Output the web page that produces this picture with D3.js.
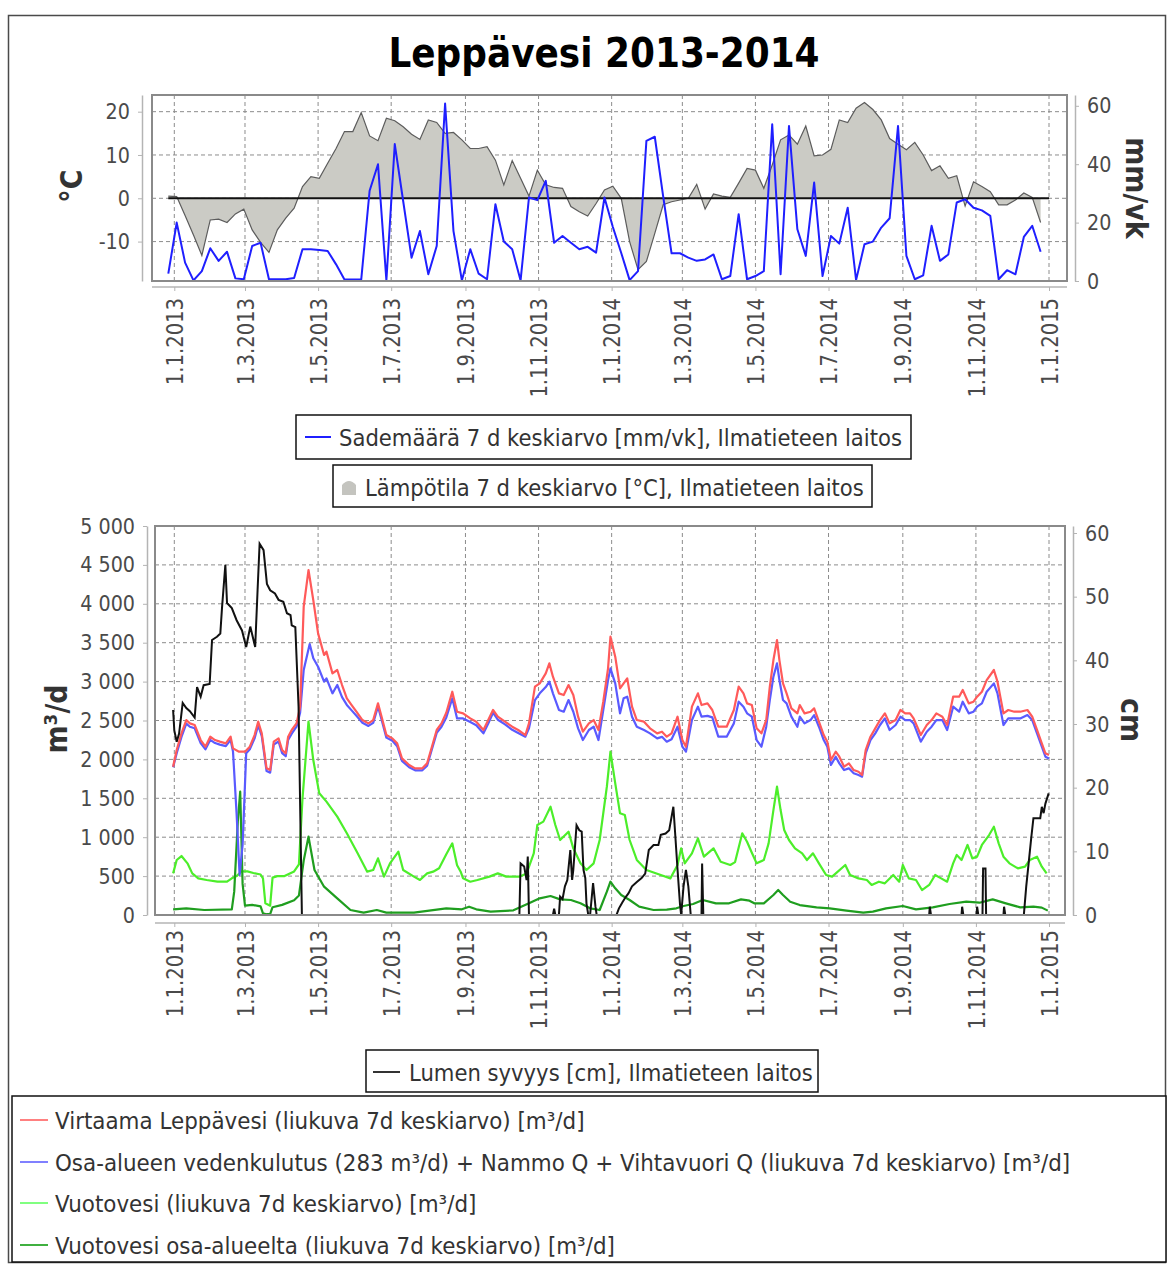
<!DOCTYPE html>
<html>
<head>
<meta charset="utf-8">
<script src="https://cdn.jsdelivr.net/npm/d3@7"></script>
<style>
  html, body { margin: 0; padding: 0; background: #fff; }
  svg text { font-family: "DejaVu Sans", sans-serif; }
</style>
</head>
<body>
<svg id="chart" width="1168" height="1264"></svg>
<script>
// ---------- Weather panel (weekly 7 d averages) ----------
const weekStart = "2012-12-27";
// Sademäärä 7 d keskiarvo [mm/vk]
const rain = [2.5,20,6.3,0.2,3.4,11.2,6.9,10,0.9,0.6,
  12,13.1,0.6,0.6,0.6,1,10.9,10.9,10.6,10.3,
  5.7,0.5,0.5,0.5,30.9,40,0.2,46.9,27.4,8,
  17.1,2.3,12,60.8,17.1,0.2,10.9,2.5,0.6,26.3,
  13.5,10.9,0.2,28.6,27.7,34.3,13.1,15.4,13.1,10.9,
  11.7,9.7,28.6,18.5,9.6,0.3,3.4,48,49.4,29,
  9.5,9.5,8,6.9,7.4,9.1,0.6,1.7,22.9,0.6,
  1.7,3.4,53.7,2.3,53.1,17.7,8.6,33.7,1.7,15.4,
  12.8,25.1,0.3,12.6,13.5,18.3,21.5,53.1,8.6,0.6,
  1.9,18.9,6.9,9.1,26.9,28,25.1,24.2,22.3,0.6,
  3.7,2.3,15.1,18.9,10];
// Lämpötila 7 d keskiarvo [°C]
const temp = [0.5,0.4,-4,-8.5,-13.2,-5,-4.8,-5.6,-3.6,-2.5,
  -7.3,-10.2,-12.5,-7.3,-4.6,-2.3,2.7,5,4.6,8.1,
  11.5,15.4,15.4,19.8,14.4,13.3,18.5,17.9,16.5,14.8,
  13.6,18.1,17.5,15,15.2,13.5,11.5,11.5,11.9,8.8,
  3.1,8.7,4.6,0.5,6.5,3.1,2.5,2.3,-1.9,-3.1,
  -4.1,-1.2,1.9,2.8,0,-10,-16.5,-14.6,-8.1,-1.5,
  -0.8,-0.4,0,3.2,-2.5,1,0.5,0.2,3.5,6.9,
  6.5,2.3,7.7,13.5,14.6,12.5,16.7,9.8,10,11.3,
  18.1,17.5,20.8,22.1,20.5,18.1,13.8,12.5,11.2,12.9,
  10,6.4,7.5,4.6,5.2,-1.8,3.8,2.7,1.5,-1.5,
  -1.5,-0.4,1.2,0.2,-5.6];

// ---------- Flow panel (daily moving averages; day = days since 1.1.2013) ----------
const flowDays = [-1,2,6,10,13,17,22,26,30,34, 38,43,47,49,54,59,63,67,70,73,
  77,80,83,87,90,93,95,98,102,105, 108,112,116,120,125,127,132,136,140,144,
  148,152,157,162,166,170,173,177,182,186, 190,196,201,207,211,215,219,223,227,232,
  236,241,247,252,258,262,266,270,276,282, 287,293,296,301,305,310,313,316,321,325,
  329,333,337,341,346,350,354,358,362,364, 368,372,375,378,382,386,392,397,403,407,
  411,415,420,424,427,432,437,440,445,449, 454,461,467,471,475,478,482,486,490,494,
  497,500,503,505,508,511,515,520,522,526, 531,534,538,542,545,548,552,555,559,563,
  567,571,574,577,581,585,589,593,597,602, 606,610,614,617,623,628,632,636,641,645,
  650,655,658,663,667,670,674,678,684,687, 692,696,701,706,712,716,720,724,727,730];
// Virtaama Leppävesi [m³/d]
const flowVals = [1906,2120,2335,2506,2463,2442,2249,2163,2292,2249, 2228,2206,2292,2142,2099,2099,2163,2313,2485,2335,
  1885,1863,2228,2270,2120,2078,2292,2378,2463,2678, 3963,4434,4048,3620,3342,3384,3106,3149,2956,2785,
  2699,2613,2506,2463,2506,2720,2549,2313,2270,2206, 2013,1928,1885,1885,1949,2163,2378,2463,2600,2870,
  2613,2592,2527,2485,2378,2506,2635,2549,2485,2420, 2378,2313,2463,2935,2977,3106,3234,3063,2849,2827,
  2956,2827,2549,2356,2463,2506,2378,2742,3170,3577, 3320,2913,2977,3042,2678,2506,2485,2399,2335,2356,
  2292,2335,2549,2249,2163,2678,2849,2699,2720,2635, 2420,2420,2635,2935,2849,2720,2699,2399,2335,2506,
  2935,3277,3534,3277,2977,2849,2656,2592,2699,2592, 2613,2656,2485,2313,2228,1992,2099,2035,1906,1949,
  1863,1842,1799,2120,2292,2399,2506,2592,2463,2506, 2635,2592,2592,2527,2313,2442,2506,2592,2549,2442,
  2806,2806,2892,2720,2742,2806,2870,3020,3149,2999, 2592,2635,2613,2613,2635,2549,2378,2206,2078,2056];

const useDays = [-1,2,6,10,13,17,22,26,30,34, 38,43,47,49,52,54.5,57,60,63,67,
  70,73,77,80,83,87,90,93,95,98, 102,105,108,113,116,120,125,127,132,136,
  140,144,148,152,157,162,166,170,173,177, 182,186,190,196,201,207,211,215,219,223,
  227,232,236,241,247,252,258,262,266,270, 276,282,287,293,296,301,305,310,313,316,
  321,325,329,333,337,341,346,350,354,358, 362,364,368,372,375,378,382,386,392,397,
  403,407,411,415,420,424,427,432,437,440, 445,449,454,461,467,471,475,478,482,486,
  490,494,497,500,503,505,508,511,515,520, 522,526,531,534,538,542,545,548,552,555,
  559,563,567,571,574,577,581,585,589,593, 597,602,606,610,614,617,623,628,632,636,
  641,645,650,655,658,663,667,670,674,678, 684,687,692,696,701,706,712,716,720,724,
  727,730];
// Osa-alueen vedenkulutus + Nammo Q + Vihtavuori Q [m³/d]
const useVals = [1900,2080,2290,2460,2420,2400,2210,2130,2250,2210, 2190,2170,2250,2100,1300,514,900,2078,2130,2270,
  2440,2300,1850,1830,2190,2230,2080,2040,2250,2330, 2420,2600,3150,3483,3300,3191,2999,3042,2849,2956,
  2800,2700,2630,2560,2470,2430,2470,2680,2510,2280, 2240,2170,1980,1900,1860,1860,1920,2130,2340,2420,
  2540,2785,2527,2527,2480,2440,2335,2460,2600,2510, 2450,2380,2340,2292,2400,2763,2849,2930,2999,2849,
  2635,2613,2763,2613,2399,2249,2378,2420,2249,2635, 3020,3170,2977,2592,2785,2806,2549,2420,2378,2335,
  2270,2290,2228,2260,2420,2163,2099,2506,2678,2549, 2560,2540,2292,2292,2463,2742,2678,2592,2549,2249,
  2163,2420,2763,3063,3234,3020,2763,2720,2549,2420, 2549,2463,2506,2570,2420,2249,2163,1928,2035,1949,
  1863,1885,1821,1799,1778,2078,2249,2335,2442,2527, 2378,2442,2549,2506,2506,2463,2228,2356,2420,2506,
  2506,2378,2678,2613,2742,2592,2613,2678,2720,2870, 2977,2849,2442,2527,2527,2527,2570,2506,2335,2163,
  2035,2013];

const leakDays = [-1,2,6,11,15,20,27,36,44,48, 52,56,61,66,72,74,76,80,82,86,
  92,100,104,107,112,116,121,127,136,144, 153,161,166,170,175,180,187,191,200,205,
  211,216,221,227,232,236,239,241,247,253, 263,270,277,288,294,300,303,308,314,318,
  322,329,333,339,344,350,355,361,364,368, 372,376,380,386,394,406,414,420,423,426,
  432,437,442,450,456,464,468,474,478,482, 486,492,496,500,503,506,509,513,518,524,
  528,533,538,544,549,560,564,571,578,582, 588,593,600,605,608,613,619,624,630,635,
  640,645,650,653,657,662,666,670,674,680, 684,688,692,697,704,710,714,720,724,728];
// Vuotovesi [m³/d]
const leakVals = [535,707,758,664,535,471,450,428,428,471, 500,560,560,540,520,470,150,120,480,500,
  500,560,650,1500,2485,1992,1564,1457,1264,1050, 793,557,578,728,493,664,814,578,493,450,
  535,557,600,780,921,640,557,471,428,450, 493,535,493,493,535,793,1157,1200,1392,1157,
  964,1071,857,664,578,664,964,1649,2099,1692, 1307,1285,964,707,578,514,471,643,857,664,
  793,985,750,857,685,643,680,1050,942,800, 664,707,921,1349,1649,1349,1092,964,857,793,
  707,793,664,514,493,643,514,471,450,386, 428,407,514,428,643,471,450,321,386,514,
  471,428,664,771,707,900,728,750,900,1028, 1135,921,750,664,600,621,707,750,621,535];

const subDays = [-1,10,25,48,50,53,55,57,59,65, 72,74,77,80,82,90,100,104,108,112,
  117,125,136,147,158,169,177,200,227,240, 246,252,264,283,296,305,314,322,331,339,
  347,355,361,364,368,373,380,388,400,411, 419,425,433,441,452,463,473,480,484,492,
  500,504,508,514,522,536,547,561,575,583, 594,608,619,633,647,661,672,683,694,706,
  717,724,729];
// Vuotovesi osa-alueelta [m³/d]
const subVals = [73,86,64,73,300,1200,1585,400,120,130, 110,20,10,10,100,130,190,250,700,1007,
  578,364,214,64,30,64,30,30,86,73, 107,73,43,60,150,214,244,201,193,150,
  86,64,300,428,343,257,193,107,64,70, 86,116,141,193,150,150,201,184,150,150,
  257,321,257,171,128,98,86,56,30,43, 86,116,73,98,141,171,158,201,150,98,
  107,95,56];

const snowDays = [-1,0,2,4,7,10,13,17,19,22, 24.5,29.5,31.5,35.6,38.4,39.8,42.6,44,48,52,
  56.5,60,63.4,67.5,69.5,71.2,74.5,77.3,80,84, 87,91,94,97,98,101,103.7,106.5,288,289,
  292,294,295,296,316,317,318,321,322,324, 326,328,330.5,332,333,335.7,338,340,341.5,343,
  344,345.5,347,349.5,351.5,352.5,369,371,374,377, 379,382,386,390,393,396,400,404,406,410,
  413,416.5,418,420,422,423,425,427,429,431, 440,440.5,441.5,630,630.5,631.5,657,657.5,658.5,669.5,
  670,671,674.5,675,677,677.5,692,692.5,693.5,709, 711,713,715,717,722.7,724,725.5,727,729.7];
// Lumen syvyys [cm]
const snowVals = [32.2,29,27.2,28.5,33.3,32.5,32,31,35.8,34.3, 36.1,36.3,43.2,43.7,44.2,48.2,55,49,48.2,46.3,
  44.7,42.1,45.3,42.1,51,58.3,57.3,52,51,50.5, 49.5,49.2,47.4,47.1,45.5,45.2,32.7,0,0,8.1,
  7.6,5.5,9.2,0,0,1,0,0,2.9,2.5, 4.5,5.5,10.2,5.5,7.1,14.1,13.3,13.1,7.1,5.8,
  1.8,0,0,5,1.3,0,0,1,2,2.9, 3.4,4.5,5.2,5.8,6.5,10.2,11,11,12.6,12.8,
  13.3,17,12.8,7.1,1.8,0,4.5,7.1,4.5,0, 0,8.1,0,0,1.3,0,0,1.3,0,0,
  1.3,0,0,7.3,7.3,0,0,1.3,0,0, 4.5,8.1,11.8,15.2,15.2,17,16,17.5,19.1];

// ---------- Axis ticks ----------
const monthTicks = ["2013-01-01","2013-03-01","2013-05-01","2013-07-01","2013-09-01","2013-11-01",
  "2014-01-01","2014-03-01","2014-05-01","2014-07-01","2014-09-01","2014-11-01","2015-01-01"];
const tempTicks = [-10, 0, 10, 20];
const rainTicks = [0, 20, 40, 60];
const flowTicks = [0,500,1000,1500,2000,2500,3000,3500,4000,4500,5000];
const snowTicks = [0,10,20,30,40,50,60];

// ---------- Helpers ----------
const DAY0 = Date.UTC(2013, 0, 1);
const dayDate = d => new Date(DAY0 + d * 864e5);
const pairs = (days, vals) => days.map((d, i) => ({ date: dayDate(d), v: vals[i] }));
const weekDates = rain.map((_, i) => d3.utcDay.offset(new Date(weekStart + "T00:00:00Z"), 7 * i));
const tickDates = monthTicks.map(s => new Date(s + "T00:00:00Z"));
const fmtDate = d3.utcFormat("%-d.%-m.%Y");
const fmtPlain = v => String(v);
const fmtThousands = v => String(v).replace(/\B(?=(\d{3})+(?!\d))/g, " ");

const svg = d3.select("#chart");
svg.append("rect").attr("width", 1168).attr("height", 1264).attr("fill", "#fff");

// outer frame
svg.append("rect").attr("x", 8.5).attr("y", 15.5).attr("width", 1157).attr("height", 1247)
  .attr("fill", "none").attr("stroke", "#4a4a4a").attr("stroke-width", 1.5);

svg.append("text").attr("x", 604).attr("y", 67).attr("text-anchor", "middle")
  .attr("font-size", 41).attr("font-weight", "bold").attr("fill", "#000")
  .attr("data-k", 0.875)
  .text("Leppävesi 2013-2014");

const x = d3.scaleUtc().domain([dayDate(0), dayDate(730)]).range([174.3, 1049]);

const topBox = { l: 152, r: 1067, t: 95, b: 281 };
const botBox = { l: 155, r: 1065, t: 526, b: 915 };

const yT = d3.scaleLinear().domain([-19.1, 23.85]).range([topBox.b, topBox.t]);
const yR = d3.scaleLinear().domain([0, 63.7]).range([topBox.b, topBox.t]);
const yQ = d3.scaleLinear().domain([0, 5000]).range([botBox.b, botBox.t]);
const yS = d3.scaleLinear().domain([0, 61.1]).range([botBox.b, botBox.t]);

const defs = svg.append("defs");
function clip(id, b) {
  defs.append("clipPath").attr("id", id).append("rect")
    .attr("x", b.l).attr("y", b.t).attr("width", b.r - b.l).attr("height", b.b - b.t);
}
clip("clipTop", topBox);
clip("clipBot", botBox);

function grid(b, yScale, yTicks) {
  const g = svg.append("g").attr("stroke", "#8c8c8c").attr("stroke-width", 1)
    .attr("stroke-dasharray", "4,3").attr("fill", "none");
  g.selectAll(".gx").data(tickDates).join("line")
    .attr("x1", d => x(d)).attr("x2", d => x(d)).attr("y1", b.t).attr("y2", b.b);
  g.selectAll(".gy").data(yTicks).join("line")
    .attr("x1", b.l).attr("x2", b.r).attr("y1", d => yScale(d)).attr("y2", d => yScale(d));
}

function styleAxis(g, size) {
  g.attr("font-family", "DejaVu Sans").attr("font-size", size);
  g.select(".domain").attr("stroke", "#b4b4b4").attr("stroke-width", 1.5);
  g.selectAll(".tick line").attr("stroke", "#b4b4b4");
  g.selectAll(".tick text").attr("fill", "#4a4a4a");
}

function dateAxis(b, yPos, gap) {
  svg.append("line").attr("x1", b.l).attr("x2", b.r).attr("y1", yPos).attr("y2", yPos)
    .attr("stroke", "#b4b4b4").attr("stroke-width", 1.5);
  const g = svg.append("g").attr("transform", `translate(0,${yPos})`)
    .call(d3.axisBottom(x).tickValues(tickDates).tickFormat(fmtDate).tickSize(4).tickSizeOuter(0));
  styleAxis(g, 22.5);
  g.select(".domain").remove();
  g.selectAll(".tick text").attr("transform", "rotate(-90)").attr("text-anchor", "end")
    .attr("x", -gap).attr("y", 0).attr("dy", "0.36em");
}

function frame(b) {
  svg.append("rect").attr("x", b.l).attr("y", b.t).attr("width", b.r - b.l).attr("height", b.b - b.t)
    .attr("fill", "none").attr("stroke", "#8a8a8a").attr("stroke-width", 2);
}

// ---------- Weather panel ----------
grid(topBox, yT, tempTicks);

const tempPts = temp.map((v, i) => ({ date: weekDates[i], v }));
const rainPts = rain.map((v, i) => ({ date: weekDates[i], v }));
const gTop = svg.append("g").attr("clip-path", "url(#clipTop)");

gTop.append("path").datum(tempPts)
  .attr("d", d3.area().x(p => x(p.date)).y0(yT(0)).y1(p => yT(p.v)))
  .attr("fill", "#cbcbc5").attr("stroke", "none");
gTop.append("path").datum(tempPts)
  .attr("d", d3.line().x(p => x(p.date)).y(p => yT(p.v)))
  .attr("fill", "none").attr("stroke", "#5c5c5c").attr("stroke-width", 1.2);
gTop.append("line")
  .attr("x1", x(weekDates[0])).attr("x2", x(dayDate(730)))
  .attr("y1", yT(0)).attr("y2", yT(0)).attr("stroke", "#111").attr("stroke-width", 2);
gTop.append("path").datum(rainPts)
  .attr("d", d3.line().x(p => x(p.date)).y(p => yR(p.v)))
  .attr("fill", "none").attr("stroke", "#1f1fff").attr("stroke-width", 2).attr("stroke-linejoin", "round");

frame(topBox);

const axTL = svg.append("g").attr("transform", "translate(142,0)")
  .call(d3.axisLeft(yT).tickValues(tempTicks).tickFormat(fmtPlain).tickSize(4).tickPadding(8).tickSizeOuter(0));
styleAxis(axTL, 22);
const axTR = svg.append("g").attr("transform", "translate(1075,0)")
  .call(d3.axisRight(yR).tickValues(rainTicks).tickFormat(fmtPlain).tickSize(4).tickPadding(8).tickSizeOuter(0));
styleAxis(axTR, 22);
dateAxis(topBox, 287, 11);

svg.append("text").attr("transform", "translate(71,186) rotate(-90)")
  .attr("text-anchor", "middle").attr("dominant-baseline", "central")
  .attr("font-size", 31).attr("font-weight", "bold").attr("fill", "#333").text("°C");
svg.append("text").attr("transform", "translate(1137,188) rotate(90)")
  .attr("text-anchor", "middle").attr("dominant-baseline", "central")
  .attr("font-size", 31).attr("font-weight", "bold").attr("fill", "#333").text("mm/vk");

// ---------- Flow panel ----------
grid(botBox, yQ, flowTicks);

const gBot = svg.append("g").attr("clip-path", "url(#clipBot)");
const lineQ = d3.line().x(p => x(p.date)).y(p => yQ(p.v));
const lineS = d3.line().x(p => x(p.date)).y(p => yS(p.v));

const flowSeries = [
  { pts: pairs(leakDays, leakVals), color: "#4cee2a" },
  { pts: pairs(subDays, subVals), color: "#1f9e1f" },
  { pts: pairs(useDays, useVals), color: "#5a5aff" },
  { pts: pairs(flowDays, flowVals), color: "#ff5a5a" }
];
flowSeries.forEach(s => {
  gBot.append("path").datum(s.pts).attr("d", lineQ)
    .attr("fill", "none").attr("stroke", s.color).attr("stroke-width", 2.2).attr("stroke-linejoin", "round");
});
gBot.append("path").datum(pairs(snowDays, snowVals)).attr("d", lineS)
  .attr("fill", "none").attr("stroke", "#111").attr("stroke-width", 2);

frame(botBox);

const axBL = svg.append("g").attr("transform", "translate(147,0)")
  .call(d3.axisLeft(yQ).tickValues(flowTicks).tickFormat(fmtThousands).tickSize(4).tickPadding(8).tickSizeOuter(0));
styleAxis(axBL, 22);
const axBR = svg.append("g").attr("transform", "translate(1073,0)")
  .call(d3.axisRight(yS).tickValues(snowTicks).tickFormat(fmtPlain).tickSize(4).tickPadding(8).tickSizeOuter(0));
styleAxis(axBR, 22);
dateAxis(botBox, 923, 7);

svg.append("text").attr("transform", "translate(56,719) rotate(-90)")
  .attr("text-anchor", "middle").attr("dominant-baseline", "central")
  .attr("font-size", 31).attr("font-weight", "bold").attr("fill", "#333").text("m³/d");
svg.append("text").attr("transform", "translate(1132,720) rotate(90)")
  .attr("text-anchor", "middle").attr("dominant-baseline", "central")
  .attr("font-size", 31).attr("font-weight", "bold").attr("fill", "#333").text("cm");

// ---------- Legends ----------
function legendBox(x0, y0, w, h) {
  svg.append("rect").attr("x", x0).attr("y", y0).attr("width", w).attr("height", h)
    .attr("fill", "#fff").attr("stroke", "#111").attr("stroke-width", 1.5);
}
function legendText(x0, yb, label, k) {
  svg.append("text").attr("x", x0).attr("y", yb).attr("font-size", 23.5).attr("fill", "#333")
    .attr("data-k", k).text(label);
}

legendBox(296, 415, 615, 44);
svg.append("line").attr("x1", 305).attr("x2", 331).attr("y1", 437).attr("y2", 437)
  .attr("stroke", "#1f1fff").attr("stroke-width", 2);
legendText(339, 446, "Sademäärä 7 d keskiarvo [mm/vk], Ilmatieteen laitos", 0.9);

legendBox(333, 465, 539, 42);
svg.append("path").attr("d", "M342,495 L342,485 Q349,477 356,485 L356,495 Z").attr("fill", "#c4c4bf");
legendText(365, 496, "Lämpötila 7 d keskiarvo [°C], Ilmatieteen laitos", 0.9);

legendBox(366, 1050, 452, 42);
svg.append("line").attr("x1", 373).attr("x2", 400).attr("y1", 1072).attr("y2", 1072)
  .attr("stroke", "#333").attr("stroke-width", 2);
legendText(409, 1081, "Lumen syvyys [cm], Ilmatieteen laitos", 0.9);

legendBox(12, 1096, 1154, 166);
const bottomLegend = [
  { label: "Virtaama Leppävesi (liukuva 7d keskiarvo) [m³/d]", color: "#ff8080" },
  { label: "Osa-alueen vedenkulutus (283 m³/d) + Nammo Q + Vihtavuori Q (liukuva 7d keskiarvo) [m³/d]", color: "#8080ff" },
  { label: "Vuotovesi (liukuva 7d keskiarvo) [m³/d]", color: "#80ff80" },
  { label: "Vuotovesi osa-alueelta (liukuva 7d keskiarvo) [m³/d]", color: "#40b040" }
];
const rowY = [1120, 1162, 1203, 1245];
bottomLegend.forEach((d, i) => {
  svg.append("line").attr("x1", 20).attr("x2", 48).attr("y1", rowY[i]).attr("y2", rowY[i])
    .attr("stroke", d.color).attr("stroke-width", 2);
  legendText(55, rowY[i] + 9, d.label, 0.912);
});

// Narrow the DejaVu glyphs horizontally to the tighter UI face proportions
svg.selectAll("text").each(function () {
  const k = +(this.getAttribute("data-k") || 0.87);
  const L = this.getComputedTextLength();
  this.setAttribute("textLength", (L * k).toFixed(1));
  this.setAttribute("lengthAdjust", "spacingAndGlyphs");
});
</script>
</body>
</html>
